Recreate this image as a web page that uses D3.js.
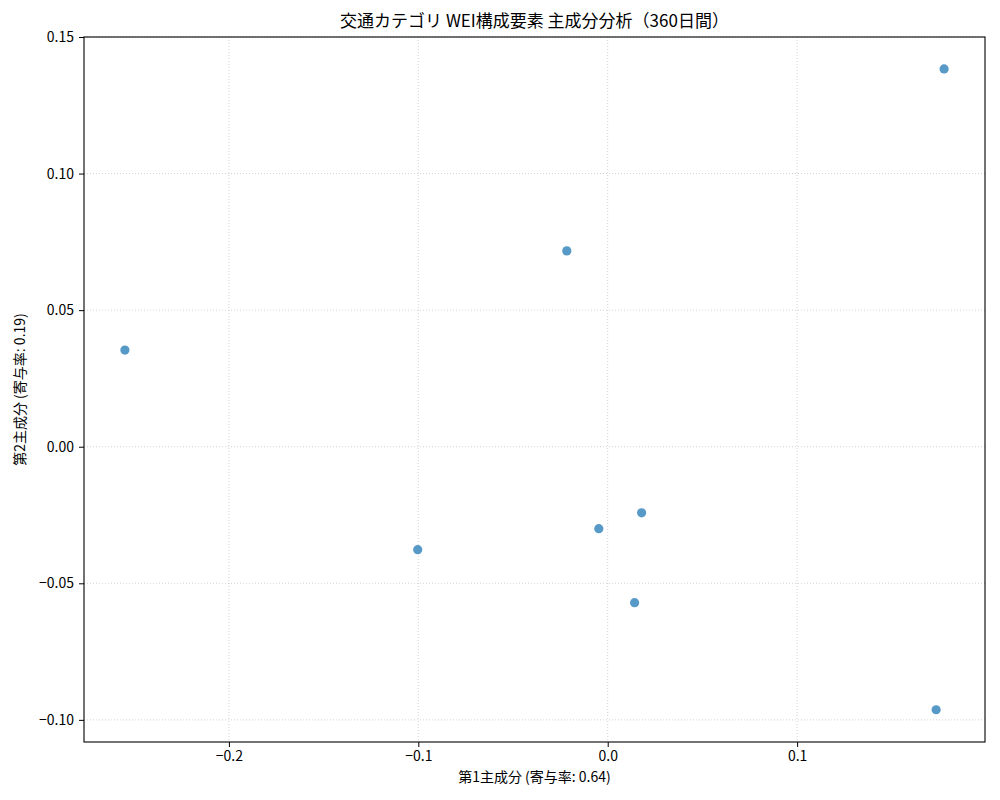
<!DOCTYPE html>
<html lang="ja">
    <head>
        <meta charset="utf-8">
        <style>
            body { margin: 0; background: #fff; }
            text { font-family: "Noto Sans CJK JP", "DejaVu Sans", sans-serif; fill: #000; }
            .grid line { stroke: #b0b0b0; stroke-opacity: 0.7; stroke-dasharray: 1,2; stroke-width: 0.8; }
            .axis path, .axis line { stroke: #000; }
        </style>
        <script src="https://d3js.org/d3.v7.min.js"></script>
    </head>
    <body>
        <svg width="1000" height="800"></svg>
        <script>
            // 主成分スコア (PC1, PC2)
            var pc1 = [0.1776, -0.0216, -0.2549, -0.0047, 0.0179, -0.1003, 0.0142, 0.1734];
            var pc2 = [0.1383, 0.0717, 0.0354, -0.0300, -0.0242, -0.0377, -0.0571, -0.0963];
            var xTicks = [-0.2, -0.1, 0.0, 0.1];
            var yTicks = [-0.10, -0.05, 0.00, 0.05, 0.10, 0.15];

            var svg = d3.select("svg");
            var mLeft = 84, mRight = 985, mTop = 37, mBottom = 742;

            var x = d3.scaleLinear()
                .domain([-0.2765, 0.1992])
                .range([mLeft, mRight]);
            var y = d3.scaleLinear()
                .domain([-0.1081, 0.15])
                .range([mBottom, mTop]);

            // grid
            var grid = svg.append("g").attr("class", "grid");
            grid.selectAll("line.gx")
                .data(xTicks)
                .enter().append("line")
                .attr("class", "gx")
                .attr("x1", function(d) { return x(d); })
                .attr("x2", function(d) { return x(d); })
                .attr("y1", mTop).attr("y2", mBottom);
            grid.selectAll("line.gy")
                .data(yTicks)
                .enter().append("line")
                .attr("class", "gy")
                .attr("y1", function(d) { return y(d); })
                .attr("y2", function(d) { return y(d); })
                .attr("x1", mLeft).attr("x2", mRight);

            // points
            svg.append("g")
                .selectAll("circle")
                .data(pc1)
                .enter().append("circle")
                .attr("cx", function(d) { return x(d); })
                .attr("cy", function(d, i) { return y(pc2[i]); })
                .attr("r", 4.6)
                .attr("fill", "#1f77b4")
                .attr("fill-opacity", 0.75);

            // axes
            var xAxis = svg.append("g")
                .attr("class", "axis")
                .attr("transform", "translate(0," + mBottom + ")")
                .call(d3.axisBottom(x).tickValues(xTicks).tickSizeOuter(0).tickSize(5).tickPadding(4));
            xAxis.selectAll("text").style("font-size", "14px").text(function(d) { return d3.format(".1f")(d).replace("-", "\u2212"); });

            var yAxis = svg.append("g")
                .attr("class", "axis")
                .attr("transform", "translate(" + mLeft + ",0)")
                .call(d3.axisLeft(y).tickValues(yTicks).tickSizeOuter(0).tickSize(5).tickPadding(5));
            yAxis.selectAll("text").style("font-size", "14px").text(function(d) { return d3.format(".2f")(d).replace("-", "\u2212"); });
            xAxis.select(".domain").remove();
            yAxis.select(".domain").remove();

            // frame
            svg.append("rect")
                .attr("x", mLeft).attr("y", mTop)
                .attr("width", mRight - mLeft).attr("height", mBottom - mTop)
                .attr("fill", "none").attr("stroke", "#000").attr("stroke-width", 1.1);

            // labels
            svg.append("text")
                .attr("x", (mLeft + mRight) / 2).attr("y", 27)
                .attr("text-anchor", "middle")
                .style("font-size", "17px")
                .text("交通カテゴリ WEI構成要素 主成分分析（360日間）");

            svg.append("text")
                .attr("x", (mLeft + mRight) / 2).attr("y", 782)
                .attr("text-anchor", "middle")
                .style("font-size", "14px")
                .text("第1主成分 (寄与率: 0.64)");

            svg.append("text")
                .attr("transform", "translate(25," + ((mTop + mBottom) / 2) + ") rotate(-90)")
                .attr("text-anchor", "middle")
                .style("font-size", "14px")
                .text("第2主成分 (寄与率: 0.19)");
        </script>
    </body>
</html>
